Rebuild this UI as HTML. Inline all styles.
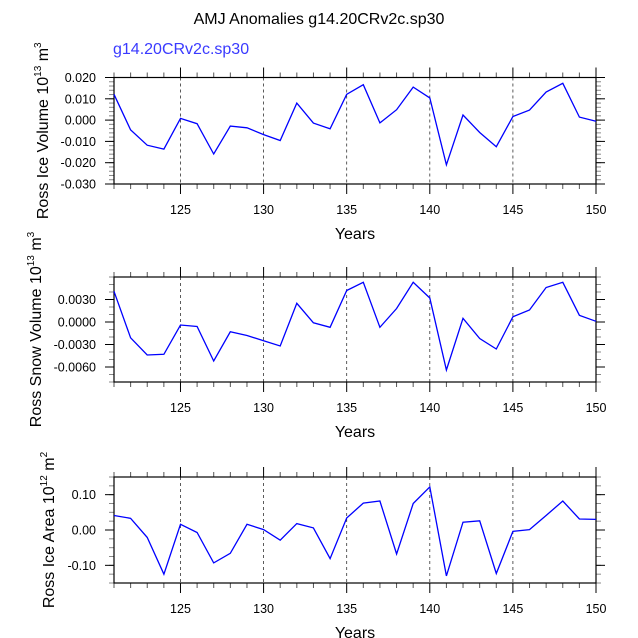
<!DOCTYPE html>
<html><head><meta charset="utf-8"><style>
html,body{margin:0;padding:0;background:#fff;}
svg{display:block;font-family:"Liberation Sans",Arial,sans-serif;}
</style></head><body>
<svg id="chart" width="638" height="638" viewBox="0 0 638 638" xmlns="http://www.w3.org/2000/svg">
<text x="319" y="24" text-anchor="middle" font-size="16">AMJ Anomalies g14.20CRv2c.sp30</text>
<text x="113" y="54" font-size="16" fill="#3a3aff">g14.20CRv2c.sp30</text>
</svg>
<script>
const years = [121,122,123,124,125,126,127,128,129,130,131,132,133,134,135,136,137,138,139,140,141,142,143,144,145,146,147,148,149,150];
const iceVolume = [0.0121,-0.0046,-0.0118,-0.0136,0.0008,-0.0017,-0.0159,-0.0028,-0.0036,-0.0068,-0.0096,0.0080,-0.0014,-0.0041,0.0121,0.0166,-0.0013,0.0049,0.0155,0.0104,-0.0210,0.0024,-0.0058,-0.0125,0.0017,0.0047,0.0132,0.0173,0.0014,-0.0005];
const snowVolume = [0.0041,-0.0021,-0.0044,-0.0043,-0.0004,-0.0006,-0.0052,-0.0013,-0.0018,-0.0025,-0.0032,0.0025,-0.0001,-0.0007,0.0042,0.0053,-0.0007,0.0018,0.0053,0.0032,-0.0064,0.0005,-0.0022,-0.0036,0.0007,0.0016,0.0046,0.0053,0.0009,0.0001];
const iceArea = [0.041,0.033,-0.021,-0.125,0.016,-0.007,-0.093,-0.066,0.016,0.001,-0.029,0.018,0.006,-0.081,0.034,0.076,0.082,-0.068,0.075,0.122,-0.130,0.022,0.026,-0.123,-0.004,0.001,0.041,0.082,0.031,0.030];
const xTicks = [125,130,135,140,145,150];
const iceVolTicks = [0.020,0.010,0.000,-0.010,-0.020,-0.030];
const iceVolLabels = ["0.020","0.010","0.000","-0.010","-0.020","-0.030"];
const snowTicks = [0.003,0.000,-0.003,-0.006];
const snowLabels = ["0.0030","0.0000","-0.0030","-0.0060"];
const areaTicks = [0.10,0.00,-0.10];
const areaLabels = ["0.10","0.00","-0.10"];

const NS="http://www.w3.org/2000/svg";
const svg=document.getElementById('chart');
function mk(tag,attrs,parent){const e=document.createElementNS(NS,tag);for(const k in attrs)e.setAttribute(k,attrs[k]);(parent||svg).appendChild(e);return e;}

const X0=114,X1=596;
const xs=v=>X0+(v-121)/(150-121)*(X1-X0);

function panel(key,top,bot,ymin,ymax,vals,ticks,labels,minorStep,titleMain,exp,unitExp,titleX){
  const g=mk('g',{});
  
  
  const ys=v=>bot-(v-ymin)/(ymax-ymin)*(bot-top);
  xTicks.forEach(t=>{if(t<150){const l=mk('line',{x1:xs(t),x2:xs(t),y1:top,y2:bot,stroke:'#333','stroke-width':0.8,'stroke-dasharray':'3,3'},g);
    
    }});
  for(let y=121;y<=150;y++){const major=xTicks.includes(y);const len=major?10:5;
    mk('line',{x1:xs(y),x2:xs(y),y1:bot,y2:bot+len,stroke:major?'#000':'#555','stroke-width':1},g);
    mk('line',{x1:xs(y),x2:xs(y),y1:top,y2:top-len,stroke:major?'#000':'#555','stroke-width':1},g);}
  const n=Math.round((ymax-ymin)/minorStep);
  for(let i=0;i<=n;i++){const v=ymin+i*minorStep;const yy=ys(v);
    mk('line',{x1:X0-5,x2:X0,y1:yy,y2:yy,stroke:'#888','stroke-width':1},g);
    mk('line',{x1:X1,x2:X1+5,y1:yy,y2:yy,stroke:'#888','stroke-width':1},g);}
  ticks.forEach((t,i)=>{const yy=ys(t);
    mk('line',{x1:X0-9,x2:X0,y1:yy,y2:yy,stroke:'#000','stroke-width':1},g);
    mk('line',{x1:X1,x2:X1+9,y1:yy,y2:yy,stroke:'#000','stroke-width':1},g);
    const tx=mk('text',{x:X0-18,y:yy+4.5,'text-anchor':'end','font-size':12.5},g);tx.textContent=labels[i];
    
    });
  xTicks.forEach(t=>{const tx=mk('text',{x:xs(t),y:bot+30,'text-anchor':'middle','font-size':12.5},g);tx.textContent=t;
    
    });
  const fr=mk('rect',{x:X0,y:top,width:X1-X0,height:bot-top,fill:'none',stroke:'#000','stroke-width':1.2},g);
  
  
  const pts=vals.map((v,i)=>xs(years[i]).toFixed(1)+','+ys(v).toFixed(1)).join(' ');
  const pl=mk('polyline',{points:pts,fill:'none',stroke:'#0000ff','stroke-width':1.3},g);
  
  
  const xt=mk('text',{x:(X0+X1)/2,y:bot+55,'text-anchor':'middle','font-size':16},g);xt.textContent='Years';
  
  
  const cy=(top+bot)/2;
  const yt=mk('text',{transform:`translate(${titleX},${cy}) rotate(-90)`,'text-anchor':'middle','font-size':16},g);
  
  
  yt.innerHTML=titleMain+' 10<tspan dy="-7" font-size="10">'+exp+'</tspan><tspan dy="7"> m</tspan><tspan dy="-7" font-size="10">'+unitExp+'</tspan>';
}
panel('ice-volume',77.5,184,-0.030,0.020,iceVolume,iceVolTicks,iceVolLabels,0.002,'Ross Ice Volume','13','3',48);
panel('snow-volume',277,382,-0.008,0.006,snowVolume,snowTicks,snowLabels,0.001,'Ross Snow Volume','13','3',41);
panel('ice-area',477,583,-0.15,0.15,iceArea,areaTicks,areaLabels,0.025,'Ross Ice Area','12','2',54);
</script>
</body></html>
